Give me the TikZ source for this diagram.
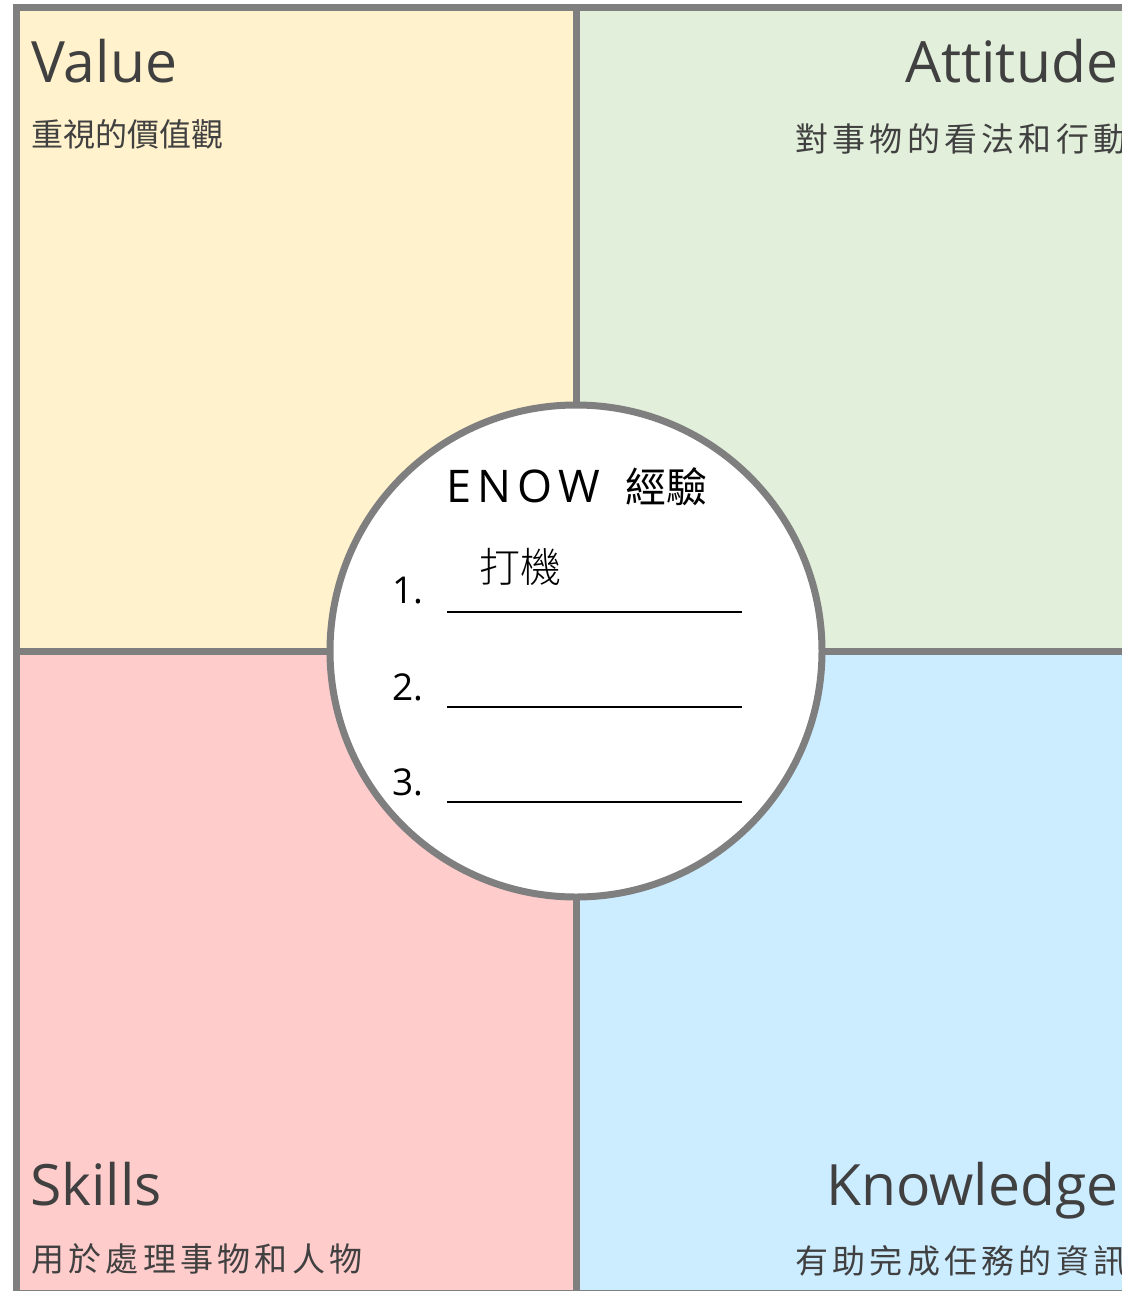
\documentclass[tikz,border=0pt]{standalone}
\usepackage{xcolor}
\usepackage{fontspec}
\setmainfont{Open Sans}
\newfontfamily\cjk{Noto Sans CJK TC}
\newfontfamily\cjkwide[LetterSpace=13]{Noto Sans CJK TC}
\newfontfamily\cjklight{Noto Sans CJK TC Light}
\newfontfamily\enowfont[LetterSpace=14]{Open Sans}
\usepackage{tikz}
\usetikzlibrary{positioning}
\definecolor{valuebg}{HTML}{FFF2CC}
\definecolor{attbg}{HTML}{E2EFDA}
\definecolor{skillbg}{HTML}{FFCCCC}
\definecolor{knowbg}{HTML}{CCECFF}
\definecolor{framegray}{HTML}{7F7F7F}
\definecolor{textgray}{HTML}{404040}
\tikzset{
    quad/.style = {draw=none},
    frameline/.style = {draw=framegray, line width=7pt},
    title/.style = {inner sep=0pt, text=textgray, font=\fontsize{57}{60}\selectfont},
    subtitle/.style = {inner sep=0pt, text=textgray, font=\cjk\fontsize{32}{34}\selectfont},
    subtitlew/.style = {inner sep=0pt, text=textgray, font=\cjkwide\fontsize{33}{35}\selectfont},
    centre/.style = {circle, draw=framegray, line width=7pt, fill=white, minimum size=492pt, inner sep=0pt},
    num/.style = {inner sep=0pt, text=black, font=\fontsize{37}{39}\selectfont},
    blank/.style = {draw=black, line width=2pt},
}

\begin{document}
\begin{tikzpicture}[x=1pt, y=-1pt]
\useasboundingbox (0,0) rectangle (1122,1291);
% the four areas
\fill[valuebg] (16,7) rectangle (576,651);
\fill[attbg] (576,7) rectangle (1130,651);
\fill[skillbg] (16,651) rectangle (576,1293);
\fill[knowbg] (576,651) rectangle (1130,1293);
\draw[frameline] (16,7) rectangle (1130,1293);
\draw[frameline] (576,7) -- (576,1293);
\draw[frameline] (16,651) -- (1130,651);

\node[title, anchor=base west] at (31,82) (value) {Value};
\node[subtitle, anchor=west] at (31,134) (valuezh) {重視的價值觀};
\node[title, anchor=base west] at (905,82) (att) {Attitude};
\node[subtitlew, anchor=west] at (795,139) (attzh) {對事物的看法和行動};
\node[title, anchor=base west] at (30,1205) (skill) {Skills};
\node[subtitlew, anchor=west] at (31,1259) (skillzh) {用於處理事物和人物};
\node[title, anchor=base west] at (826,1205) (know) {Knowledge};
\node[subtitlew, anchor=west] at (795,1261) (knowzh) {有助完成任務的資訊};

% centre circle
\node[centre] at (576,651) (enowc) {};
\node[inner sep=0pt, anchor=base west, font=\enowfont\fontsize{45}{47}\selectfont] at (446,502) (enow) {ENOW};
\node[inner sep=0pt, anchor=base west, font=\cjk\fontsize{41}{43}\selectfont] at (625,502) (jy) {經驗};

\node[num, anchor=base west] at (392,603) (n1) {1.};
\node[num, anchor=base west] at (392,700) (n2) {2.};
\node[num, anchor=base west] at (392,795) (n3) {3.};
\coordinate (l1a) at (447,612);
\coordinate (l1b) at (742,612);
\coordinate (l2a) at (447,707);
\coordinate (l2b) at (742,707);
\coordinate (l3a) at (447,802);
\coordinate (l3b) at (742,802);
\draw[blank] (l1a) -- (l1b);
\draw[blank] (l2a) -- (l2b);
\draw[blank] (l3a) -- (l3b);
\node[inner sep=0pt, anchor=base west, font=\cjklight\fontsize{41}{43}\selectfont] at (479,582) (ans) {打機};

\end{tikzpicture}
\end{document}
